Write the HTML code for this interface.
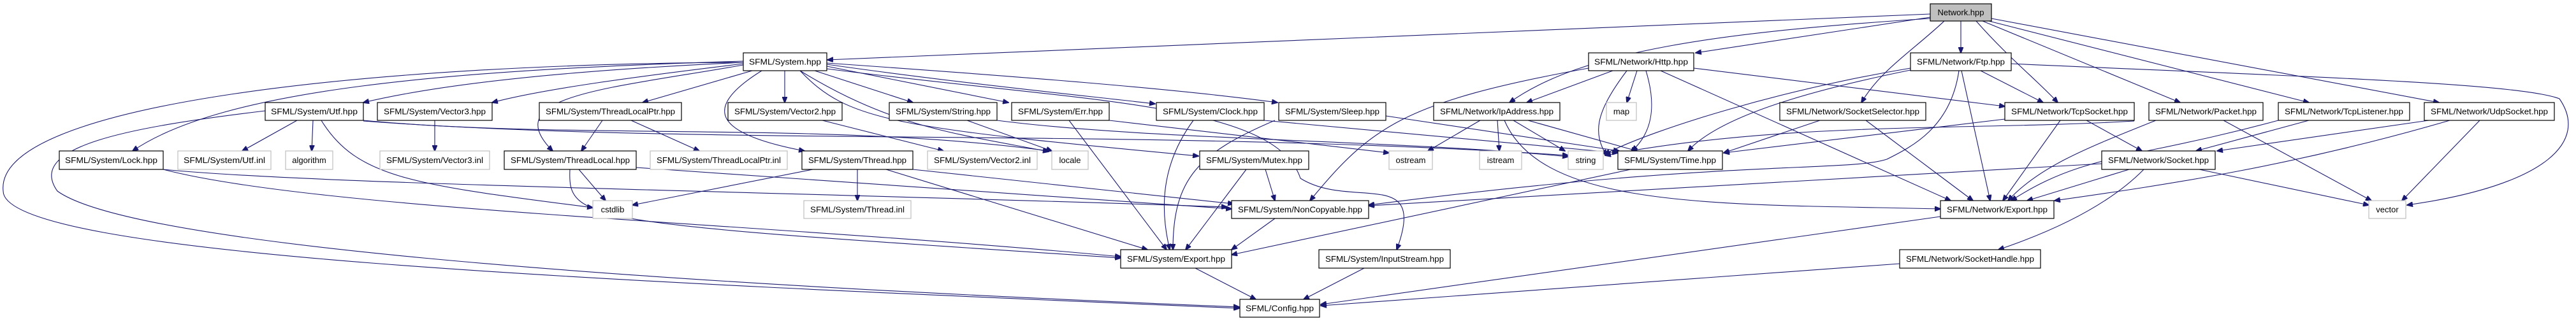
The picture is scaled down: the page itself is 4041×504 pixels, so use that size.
<!DOCTYPE html>
<html><head><meta charset="utf-8"><style>
html,body{margin:0;padding:0;background:#fff;}
svg{display:block;}
.e{fill:none;stroke:#191970;stroke-width:1.1;marker-end:url(#a);}
.n{fill:#fff;stroke:#000;stroke-width:1.2;}
.g{fill:#fff;stroke:#bfbfbf;stroke-width:1.2;}
.r{fill:#bfbfbf;stroke:#000;stroke-width:1.2;}
text{font-family:"Liberation Sans",sans-serif;font-size:13px;text-anchor:middle;fill:#000;}
</style></head><body>
<svg width="4041" height="504" viewBox="0 0 4041 504" xmlns="http://www.w3.org/2000/svg">
<defs><marker id="a" markerWidth="10" markerHeight="8" refX="9" refY="4" orient="auto" markerUnits="userSpaceOnUse"><path d="M0,0 L10,4 L0,8 z" fill="#191970" stroke="#191970"/></marker></defs>
<g>
<!-- Network.hpp edges -->
<path class="e" d="M3028,22 L1298,94"/>
<path class="e" d="M3028,27 L2660,83"/>
<path class="e" d="M3028,29 C2700,50 2480,80 2368,161"/>
<path class="e" d="M3076,33 L3076,83"/>
<path class="e" d="M3050,33 C3000,80 2950,110 2920,161"/>
<path class="e" d="M3100,33 C3150,90 3200,130 3228,161"/>
<path class="e" d="M3110,33 L3420,161"/>
<path class="e" d="M3120,33 L3622,161"/>
<path class="e" d="M3124,29 L3826,161"/>
<!-- System.hpp edges -->
<path class="e" d="M1166,98 C900,110 700,130 570,161"/>
<path class="e" d="M1166,100 C1000,120 850,140 772,161"/>
<path class="e" d="M1180,111 L1008,161"/>
<path class="e" d="M1231,111 L1231,161"/>
<path class="e" d="M1278,111 L1432,161"/>
<path class="e" d="M1297,104 L1582,161"/>
<path class="e" d="M1297,101 C1500,130 1700,150 1812,163"/>
<path class="e" d="M1297,99 C1600,120 1850,140 2004,161"/>
<path class="e" d="M1166,96 C700,110 350,140 208,237"/>
<path class="e" d="M1166,102 C950,140 780,150 867,237"/>
<path class="e" d="M1195,111 C1100,170 1120,210 1262,237"/>
<path class="e" d="M1255,111 C1330,190 1400,200 1880,245"/>
<path class="e" d="M1255,111 C1400,200 1500,210 1645,238"/>
<path class="e" d="M1166,98 C600,100 -10,160 5,300 C5,400 900,440 1944,484"/>
<path class="e" d="M1297,108 C1700,160 2000,160 2040,280 C2120,330 2240,260 2191,392"/>
<!-- Utf.hpp -->
<path class="e" d="M466,189 L380,237"/>
<path class="e" d="M491,189 L489,237"/>
<path class="e" d="M504,189 C560,280 650,290 930,326"/>
<path class="e" d="M570,189 C900,220 1300,190 1645,237"/>
<path class="e" d="M570,190 C1100,230 1800,200 2460,244"/>
<path class="e" d="M416,174 C200,200 40,230 90,300 C200,380 900,440 1944,482"/>
<!-- Vector3 -->
<path class="e" d="M682,189 L682,237"/>
<!-- ThreadLocalPtr -->
<path class="e" d="M945,189 L912,237"/>
<path class="e" d="M990,189 L1097,237"/>
<!-- ThreadLocal -->
<path class="e" d="M908,266 L950,315"/>
<path class="e" d="M894,266 C890,350 920,350 1758,405"/>
<path class="e" d="M998,263 L1932,328"/>
<!-- Lock -->
<path class="e" d="M256,266 C500,290 1200,300 1925,325"/>
<path class="e" d="M256,266 C500,330 1200,350 1758,403"/>
<!-- Vector2 -->
<path class="e" d="M1290,189 L1480,237"/>
<!-- String -->
<path class="e" d="M1517,189 L1650,237"/>
<path class="e" d="M1564,189 C1800,220 2200,220 2460,246"/>
<!-- Err -->
<path class="e" d="M1677,189 L1830,392"/>
<path class="e" d="M1740,189 L2179,240"/>
<!-- Clock -->
<path class="e" d="M1872,189 C1820,260 1820,330 1835,392"/>
<path class="e" d="M1983,189 L2538,240"/>
<!-- Sleep -->
<path class="e" d="M2000,189 C1880,240 1840,280 1840,392"/>
<path class="e" d="M2174,182 L2540,237"/>
<!-- Thread -->
<path class="e" d="M1275,266 L992,322"/>
<path class="e" d="M1345,266 L1345,315"/>
<path class="e" d="M1390,266 L1800,392"/>
<path class="e" d="M1432,266 L1935,320"/>
<!-- Mutex -->
<path class="e" d="M1955,266 L1860,392"/>
<path class="e" d="M1985,266 L2000,315"/>
<!-- NonCopyable, Time -> Export -->
<path class="e" d="M2000,343 L1932,392"/>
<path class="e" d="M2558,266 L1932,400"/>
<!-- Export -> Config -->
<path class="e" d="M1875,421 L1970,470"/>
<path class="e" d="M2140,421 L2045,470"/>
<!-- Http -->
<path class="e" d="M2530,111 L2395,161"/>
<path class="e" d="M2568,111 L2552,161"/>
<path class="e" d="M2552,111 C2500,180 2500,210 2520,244"/>
<path class="e" d="M2582,111 C2600,170 2590,210 2560,237"/>
<path class="e" d="M2492,107 C2200,160 2150,200 2055,315"/>
<path class="e" d="M2605,111 L3060,315"/>
<path class="e" d="M2657,107 L3145,167"/>
<!-- IpAddress -->
<path class="e" d="M2322,189 L2240,237"/>
<path class="e" d="M2349,189 L2352,237"/>
<path class="e" d="M2374,189 L2455,237"/>
<path class="e" d="M2397,189 L2568,237"/>
<path class="e" d="M2360,189 C2420,330 2700,320 3044,328"/>
<!-- SocketSelector -->
<path class="e" d="M2855,189 L2704,240"/>
<path class="e" d="M2927,189 L3095,315"/>
<!-- Ftp -->
<path class="e" d="M2997,107 C2800,140 2600,200 2517,242"/>
<path class="e" d="M2997,110 C2850,140 2700,180 2648,237"/>
<path class="e" d="M3077,111 L3122,315"/>
<path class="e" d="M3107,111 L3205,161"/>
<path class="e" d="M3155,100 C3600,120 3950,130 4015,155 C4060,220 4000,290 3776,322"/>
<path class="e" d="M3073,111 C3060,200 3000,230 2960,250 C2900,270 2700,250 2147,322"/>
<!-- TcpSocket -->
<path class="e" d="M3232,189 L3142,315"/>
<path class="e" d="M3273,189 L3360,237"/>
<path class="e" d="M3145,187 L2704,240"/>
<!-- Packet -->
<path class="e" d="M3382,189 C3280,230 3200,260 3150,315"/>
<path class="e" d="M3488,189 L3720,315"/>
<path class="e" d="M3348,190 C3100,205 2800,190 2518,244"/>
<!-- TcpListener -->
<path class="e" d="M3622,189 L3445,237"/>
<path class="e" d="M3574,189 C3350,250 3270,240 3155,315"/>
<!-- UdpSocket -->
<path class="e" d="M3810,189 L3478,237"/>
<path class="e" d="M3843,189 C3600,260 3400,290 3223,315"/>
<path class="e" d="M3890,189 L3768,315"/>
<!-- Socket -->
<path class="e" d="M3340,266 L3180,315"/>
<path class="e" d="M3363,266 C3300,330 3200,370 3135,392"/>
<path class="e" d="M3450,266 L3716,322"/>
<path class="e" d="M3297,257 L2147,323"/>
<!-- Network Export, SocketHandle -> Config -->
<path class="e" d="M3044,340 L2072,478"/>
<path class="e" d="M2980,414 L2072,480"/>
</g>
<g>
<rect class="r" x="3028" y="6" width="96" height="27"/><text x="3076" y="24">Network.hpp</text>
<rect class="n" x="1166" y="83" width="131" height="28"/><text x="1231.5" y="101.5" textLength="113" lengthAdjust="spacingAndGlyphs">SFML/System.hpp</text>
<rect class="n" x="2492" y="83" width="165" height="28"/><text x="2574.5" y="101.5" textLength="147" lengthAdjust="spacingAndGlyphs">SFML/Network/Http.hpp</text>
<rect class="n" x="2997" y="83" width="158" height="28"/><text x="3076" y="101.5" textLength="138" lengthAdjust="spacingAndGlyphs">SFML/Network/Ftp.hpp</text>

<rect class="n" x="416" y="161" width="154" height="28"/><text x="493" y="179.5" textLength="136" lengthAdjust="spacingAndGlyphs">SFML/System/Utf.hpp</text>
<rect class="n" x="592" y="161" width="180" height="28"/><text x="682" y="179.5" textLength="160" lengthAdjust="spacingAndGlyphs">SFML/System/Vector3.hpp</text>
<rect class="n" x="846" y="161" width="223" height="28"/><text x="957.5" y="179.5" textLength="203" lengthAdjust="spacingAndGlyphs">SFML/System/ThreadLocalPtr.hpp</text>
<rect class="n" x="1142" y="161" width="179" height="28"/><text x="1231.5" y="179.5" textLength="159" lengthAdjust="spacingAndGlyphs">SFML/System/Vector2.hpp</text>
<rect class="n" x="1395" y="161" width="169" height="28"/><text x="1479.5" y="179.5" textLength="149" lengthAdjust="spacingAndGlyphs">SFML/System/String.hpp</text>
<rect class="n" x="1587" y="161" width="153" height="28"/><text x="1663.5" y="179.5" textLength="133" lengthAdjust="spacingAndGlyphs">SFML/System/Err.hpp</text>
<rect class="n" x="1814" y="161" width="169" height="28"/><text x="1898.5" y="179.5" textLength="149" lengthAdjust="spacingAndGlyphs">SFML/System/Clock.hpp</text>
<rect class="n" x="2006" y="161" width="168" height="28"/><text x="2090" y="179.5" textLength="148" lengthAdjust="spacingAndGlyphs">SFML/System/Sleep.hpp</text>
<rect class="n" x="2249" y="161" width="198" height="28"/><text x="2348" y="179.5" textLength="178" lengthAdjust="spacingAndGlyphs">SFML/Network/IpAddress.hpp</text>
<rect class="g" x="2520" y="161" width="47" height="28"/><text x="2543.5" y="179.5">map</text>
<rect class="n" x="2792" y="161" width="229" height="28"/><text x="2906.5" y="179.5" textLength="209" lengthAdjust="spacingAndGlyphs">SFML/Network/SocketSelector.hpp</text>
<rect class="n" x="3145" y="161" width="203" height="28"/><text x="3246.5" y="179.5" textLength="183" lengthAdjust="spacingAndGlyphs">SFML/Network/TcpSocket.hpp</text>
<rect class="n" x="3371" y="161" width="179" height="28"/><text x="3460.5" y="179.5" textLength="159" lengthAdjust="spacingAndGlyphs">SFML/Network/Packet.hpp</text>
<rect class="n" x="3574" y="161" width="206" height="28"/><text x="3677" y="179.5" textLength="186" lengthAdjust="spacingAndGlyphs">SFML/Network/TcpListener.hpp</text>
<rect class="n" x="3803" y="161" width="204" height="28"/><text x="3905" y="179.5" textLength="184" lengthAdjust="spacingAndGlyphs">SFML/Network/UdpSocket.hpp</text>

<rect class="n" x="93" y="237" width="163" height="29"/><text x="174.5" y="256" textLength="145" lengthAdjust="spacingAndGlyphs">SFML/System/Lock.hpp</text>
<rect class="g" x="279" y="237" width="146" height="29"/><text x="352" y="256" textLength="128" lengthAdjust="spacingAndGlyphs">SFML/System/Utf.inl</text>
<rect class="g" x="448" y="237" width="74" height="29"/><text x="485" y="256">algorithm</text>
<rect class="g" x="596" y="237" width="172" height="29"/><text x="682" y="256" textLength="152" lengthAdjust="spacingAndGlyphs">SFML/System/Vector3.inl</text>
<rect class="n" x="791" y="237" width="207" height="29"/><text x="894.5" y="256" textLength="187" lengthAdjust="spacingAndGlyphs">SFML/System/ThreadLocal.hpp</text>
<rect class="g" x="1020" y="237" width="215" height="29"/><text x="1127.5" y="256" textLength="195" lengthAdjust="spacingAndGlyphs">SFML/System/ThreadLocalPtr.inl</text>
<rect class="n" x="1258" y="237" width="174" height="29"/><text x="1345" y="256" textLength="154" lengthAdjust="spacingAndGlyphs">SFML/System/Thread.hpp</text>
<rect class="g" x="1455" y="237" width="172" height="29"/><text x="1541" y="256" textLength="152" lengthAdjust="spacingAndGlyphs">SFML/System/Vector2.inl</text>
<rect class="g" x="1650" y="237" width="57" height="29"/><text x="1678.5" y="256">locale</text>
<rect class="n" x="1882" y="237" width="171" height="29"/><text x="1967.5" y="256" textLength="151" lengthAdjust="spacingAndGlyphs">SFML/System/Mutex.hpp</text>
<rect class="g" x="2179" y="237" width="68" height="29"/><text x="2213" y="256">ostream</text>
<rect class="g" x="2321" y="237" width="66" height="29"/><text x="2354" y="256">istream</text>
<rect class="g" x="2460" y="237" width="55" height="29"/><text x="2487.5" y="256">string</text>
<rect class="n" x="2538" y="237" width="164" height="29"/><text x="2620" y="256" textLength="144" lengthAdjust="spacingAndGlyphs">SFML/System/Time.hpp</text>
<rect class="n" x="3297" y="237" width="178" height="29"/><text x="3386" y="256" textLength="158" lengthAdjust="spacingAndGlyphs">SFML/Network/Socket.hpp</text>

<rect class="g" x="930" y="315" width="62" height="28"/><text x="961" y="333.5">cstdlib</text>
<rect class="g" x="1261" y="315" width="168" height="28"/><text x="1345" y="333.5" textLength="148" lengthAdjust="spacingAndGlyphs">SFML/System/Thread.inl</text>
<rect class="n" x="1932" y="315" width="215" height="28"/><text x="2039.5" y="333.5" textLength="195" lengthAdjust="spacingAndGlyphs">SFML/System/NonCopyable.hpp</text>
<rect class="n" x="3044" y="315" width="178" height="28"/><text x="3133" y="333.5" textLength="158" lengthAdjust="spacingAndGlyphs">SFML/Network/Export.hpp</text>
<rect class="g" x="3716" y="315" width="58" height="28"/><text x="3745" y="333.5">vector</text>

<rect class="n" x="1758" y="392" width="174" height="29"/><text x="1845" y="411" textLength="154" lengthAdjust="spacingAndGlyphs">SFML/System/Export.hpp</text>
<rect class="n" x="2069" y="392" width="206" height="29"/><text x="2172" y="411" textLength="186" lengthAdjust="spacingAndGlyphs">SFML/System/InputStream.hpp</text>
<rect class="n" x="2980" y="392" width="221" height="29"/><text x="3090.5" y="411" textLength="201" lengthAdjust="spacingAndGlyphs">SFML/Network/SocketHandle.hpp</text>

<rect class="n" x="1945" y="470" width="125" height="28"/><text x="2007.5" y="488.5" textLength="107" lengthAdjust="spacingAndGlyphs">SFML/Config.hpp</text>
</g>
</svg>
</body></html>
